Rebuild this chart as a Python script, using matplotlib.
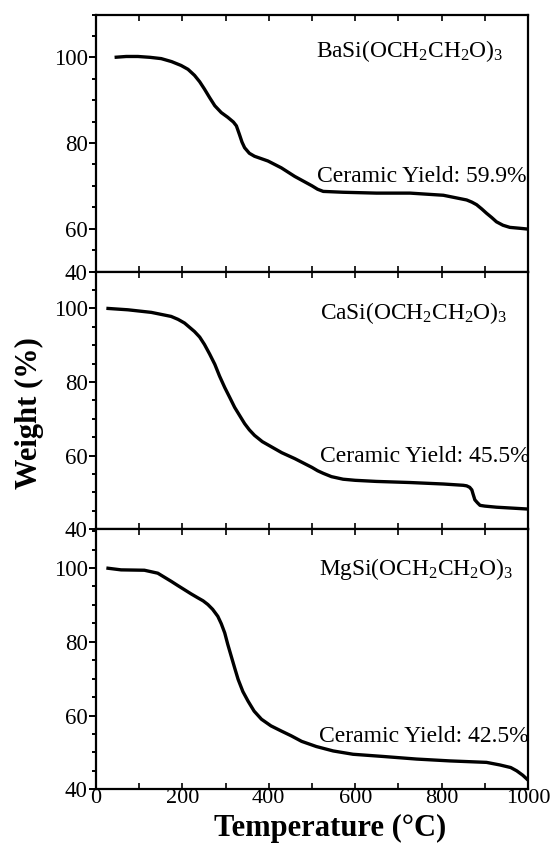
import numpy as np
import matplotlib
matplotlib.use("Agg")
import matplotlib.pyplot as plt
from matplotlib.ticker import MultipleLocator, FixedLocator, FixedFormatter

plt.rcParams['font.family'] = ['Liberation Serif', 'DejaVu Serif']
plt.rcParams['mathtext.fontset'] = 'custom'
plt.rcParams['mathtext.rm'] = 'Liberation Serif'
plt.rcParams['mathtext.it'] = 'Liberation Serif:italic'
plt.rcParams['mathtext.bf'] = 'Liberation Serif:bold'

# TGA traces (temperature in degC, weight in %)
ba_temp = [43, 70, 97, 125, 151, 175, 197, 213, 228, 240, 251, 263, 275, 290, 305,
           318, 325, 332, 338, 344, 355, 367, 398, 429, 460, 500, 513, 526, 572, 649,
           727, 804, 858, 870, 881, 893, 904, 916, 927, 942, 958, 980, 1000]
ba_weight = [100.0, 100.2, 100.2, 100.0, 99.7, 99.0, 98.1, 97.2, 95.8, 94.3, 92.6,
             90.6, 88.7, 87.1, 86.0, 84.9, 84.0, 82.0, 80.2, 78.9, 77.6, 76.9, 75.8,
             74.2, 72.2, 70.0, 69.2, 68.7, 68.5, 68.3, 68.3, 67.8, 66.7, 66.2, 65.6,
             64.6, 63.6, 62.6, 61.6, 60.8, 60.3, 60.1, 59.9]

ca_temp = [24, 74, 128, 174, 190, 205, 215, 228, 240, 251, 263, 275, 286, 298, 310,
           321, 333, 344, 355, 367, 385, 406, 430, 460, 480, 500, 513, 526, 545, 572,
           600, 649, 727, 804, 850, 858, 865, 870, 873, 877, 883, 889, 900, 927, 1000]
ca_weight = [100.0, 99.6, 98.9, 97.8, 97.0, 96.0, 95.0, 93.7, 92.2, 90.2, 87.6, 84.8,
             81.6, 78.5, 75.7, 73.1, 70.8, 68.7, 67.0, 65.5, 63.8, 62.4, 60.8, 59.2,
             58.0, 56.8, 55.9, 55.2, 54.3, 53.6, 53.3, 53.0, 52.7, 52.3, 51.95, 51.8,
             51.4, 50.7, 49.5, 48.0, 47.2, 46.5, 46.3, 46.0, 45.5]

mg_temp = [24, 58, 112, 143, 174, 190, 205, 220, 236, 248, 259, 270, 282, 290, 298,
           305, 313, 321, 329, 340, 352, 366, 383, 405, 429, 452, 476, 510, 549, 595,
           665, 742, 819, 904, 935, 960, 974, 988, 1000]
mg_weight = [100.0, 99.5, 99.4, 98.6, 96.4, 95.2, 94.1, 93.0, 91.9, 91.1, 90.1, 88.8,
             86.9, 84.9, 82.4, 79.3, 76.1, 72.9, 69.8, 66.5, 63.9, 61.2, 59.0, 57.2,
             55.8, 54.5, 53.0, 51.6, 50.4, 49.5, 48.9, 48.2, 47.7, 47.3, 46.6, 45.9,
             45.0, 43.8, 42.5]

names = [r'BaSi(OCH$_2$CH$_2$O)$_3$', r'CaSi(OCH$_2$CH$_2$O)$_3$',
         r'MgSi(OCH$_2$CH$_2$O)$_3$']
yields = [59.9, 45.5, 42.5]
ytick_vals = [[50, 60, 80, 100], [40, 60, 80, 100], [40, 60, 80, 100]]
ytick_text = ['40', '60', '80', '100']

fig = plt.figure(figsize=(5.51, 8.49), dpi=100)
W, H = 551.0, 849.0
left, right = 96 / W, 528 / W
panels = [(14.5, 271.5, (50, 110)), (271.5, 529.3, (40, 110)), (529.3, 789.3, (40, 110.5))]
name_pos = [(509, 100.1), (518, 97.0), (516, 98.2)]
yield_pos = [(511, 70.8), (518, 58.3), (516, 52.8)]
curves = [(ba_temp, ba_weight), (ca_temp, ca_weight), (mg_temp, mg_weight)]

for i, (top, bot, ylim) in enumerate(panels):
    ax = fig.add_axes([left, 1 - bot / H, right - left, (bot - top) / H])
    t, w = curves[i]
    ax.plot(t, w, color='black', lw=2.4, solid_joinstyle='round', solid_capstyle='butt')
    ax.set_xlim(0, 1000)
    ax.set_ylim(*ylim)
    for s in ax.spines.values():
        s.set_linewidth(1.6)
    ax.yaxis.set_major_locator(FixedLocator(ytick_vals[i]))
    ax.yaxis.set_major_formatter(FixedFormatter(ytick_text))
    ax.yaxis.set_minor_locator(MultipleLocator(5))
    ax.xaxis.set_major_locator(MultipleLocator(200))
    ax.xaxis.set_minor_locator(MultipleLocator(100))
    ax.tick_params(axis='y', which='major', direction='out', length=5, width=1.4,
                   labelsize=16.5, pad=1)
    ax.tick_params(axis='y', which='minor', direction='out', length=3, width=1.4)
    ax.tick_params(axis='x', which='both', direction='in', top=True, bottom=True,
                   length=4, width=1.2, labelsize=16, pad=0)
    if i < 2:
        ax.tick_params(axis='x', labelbottom=False)
    nx, ny = name_pos[i]
    ax.text(nx, ny, names[i], fontsize=16.8, ha='left', va='baseline')
    yx, yy = yield_pos[i]
    ax.text(yx, yy, 'Ceramic Yield: %.1f%%' % yields[i], fontsize=17,
            ha='left', va='baseline')

fig.text(29 / W, 1 - 413 / H, 'Weight (%)', rotation=90, ha='center', va='center',
         fontsize=22, fontweight='bold')
fig.text(330 / W, 1 - 836 / H, 'Temperature (°C)', ha='center', va='baseline',
         fontsize=22, fontweight='bold')

fig.savefig('out.png', dpi=100)
